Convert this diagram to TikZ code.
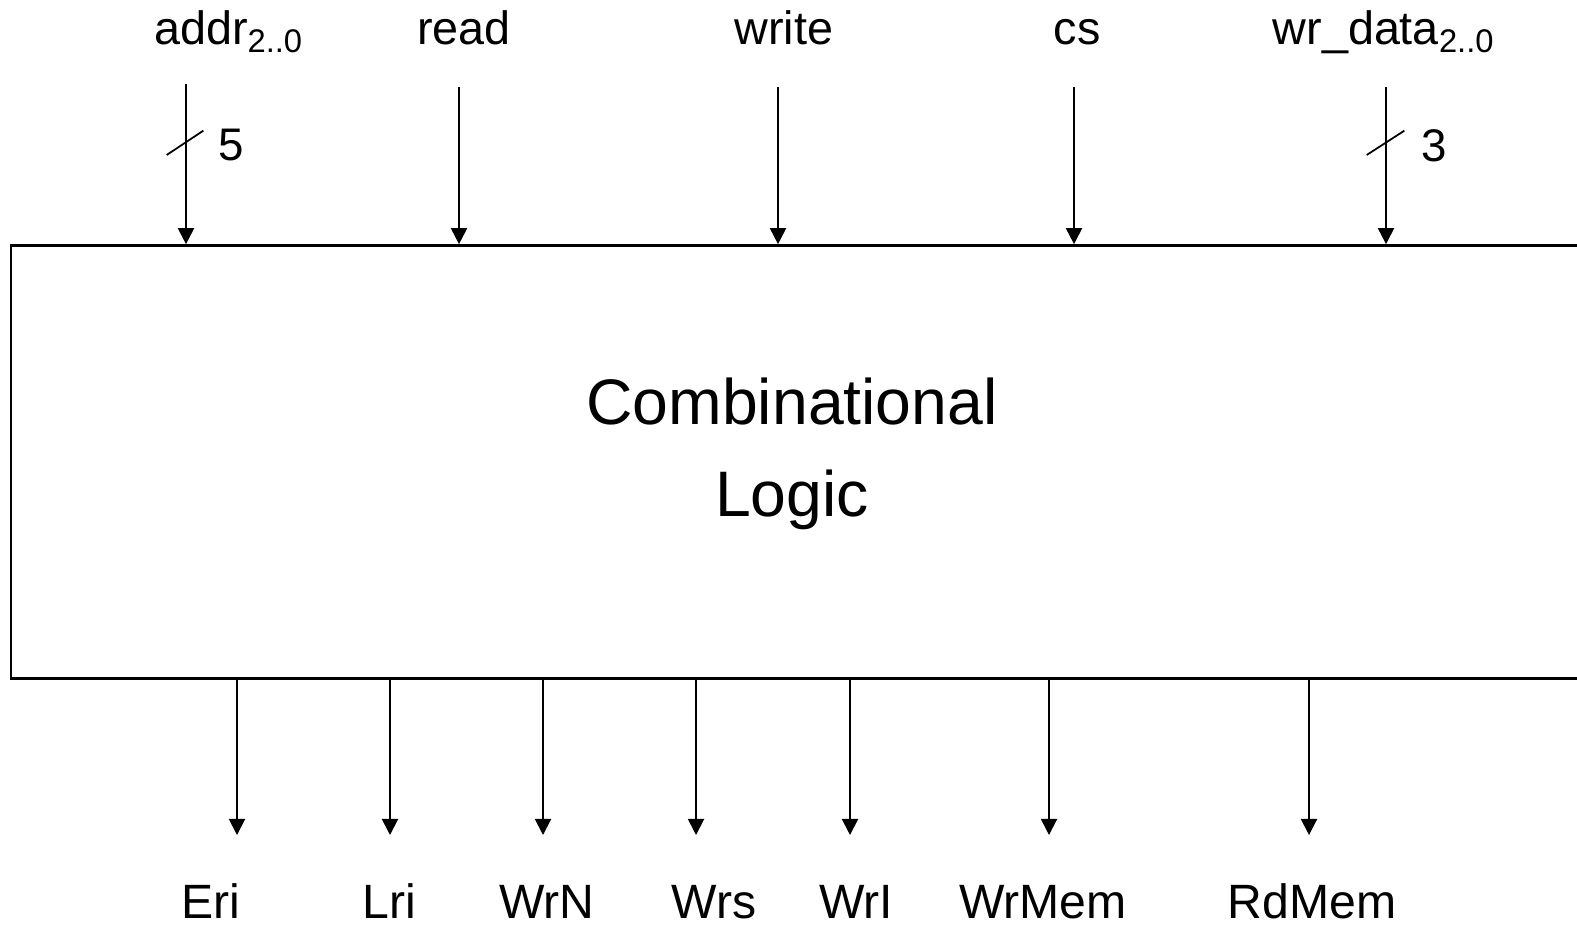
\documentclass[tikz,border=0pt]{standalone}
\usepackage{fontspec}
\setmainfont{Liberation Sans}
\usetikzlibrary{arrows.meta}

\begin{document}
\begin{tikzpicture}[
  >={Triangle[width=0.16cm, length=0.16cm]},
  fl/.style={->, line width=0.55pt},
  insig/.style={anchor=base, inner sep=0pt, font=\fontsize{13.3}{15}\selectfont},
  outsig/.style={anchor=base, inner sep=0pt, font=\fontsize{13.7}{15}\selectfont},
  blk/.style={draw, line width=0.75pt, inner sep=0pt},
]
\useasboundingbox (0,0) rectangle (15.77,9.27);

% the logic block runs off the right side of the page
\node[blk, minimum width=15.89cm, minimum height=4.328cm] (cl) at (8.055,4.651) {};
\node[align=center, font=\fontsize{18.3}{26.2}\selectfont] (title) at (7.92,4.73) {Combinational\\Logic};

% inputs
\node[insig] (addr) at (2.29,8.825) {addr\textsubscript{2..0}};
\node[insig] (rd) at (4.64,8.825) {read};
\node[insig] (wr) at (7.84,8.825) {write};
\node[insig] (cs) at (10.77,8.825) {cs};
\node[insig] (wrdata) at (13.84,8.825) {wr\_data\textsubscript{2..0}};

\coordinate (addr-in) at (1.86,8.425);
\coordinate (rd-in) at (4.59,8.395);
\coordinate (wr-in) at (7.78,8.395);
\coordinate (cs-in) at (10.74,8.395);
\coordinate (wrdata-in) at (13.86,8.395);

\draw[fl] (addr-in) -- (addr-in |- cl.north);
\draw[fl] (rd-in) -- (rd-in |- cl.north);
\draw[fl] (wr-in) -- (wr-in |- cl.north);
\draw[fl] (cs-in) -- (cs-in |- cl.north);
\draw[fl] (wrdata-in) -- (wrdata-in |- cl.north);

% bus width marks
\draw[line width=0.5pt] (1.667,7.72) -- (2.033,7.963);
\node[anchor=center, font=\fontsize{13}{15}\selectfont] (w5) at (2.31,7.82) {5};
\draw[line width=0.5pt] (13.667,7.72) -- (14.043,7.963);
\node[anchor=center, font=\fontsize{13}{15}\selectfont] (w3) at (14.34,7.815) {3};

% outputs
\coordinate (eri-out) at (2.37,0.92);
\coordinate (lri-out) at (3.90,0.92);
\coordinate (wrn-out) at (5.43,0.92);
\coordinate (wrs-out) at (6.96,0.92);
\coordinate (wri-out) at (8.50,0.92);
\coordinate (wrmem-out) at (10.49,0.92);
\coordinate (rdmem-out) at (13.09,0.92);

\draw[fl] (eri-out |- cl.south) -- (eri-out);
\draw[fl] (lri-out |- cl.south) -- (lri-out);
\draw[fl] (wrn-out |- cl.south) -- (wrn-out);
\draw[fl] (wrs-out |- cl.south) -- (wrs-out);
\draw[fl] (wri-out |- cl.south) -- (wri-out);
\draw[fl] (wrmem-out |- cl.south) -- (wrmem-out);
\draw[fl] (rdmem-out |- cl.south) -- (rdmem-out);

\node[outsig] (eri) at (2.11,0.09) {Eri};
\node[outsig] (lri) at (3.89,0.09) {Lri};
\node[outsig] (wrn) at (5.47,0.09) {WrN};
\node[outsig] (wrs) at (7.14,0.09) {Wrs};
\node[outsig] (wri) at (8.56,0.09) {WrI};
\node[outsig] (wrmem) at (10.43,0.09) {WrMem};
\node[outsig] (rdmem) at (13.12,0.09) {RdMem};
\end{tikzpicture}
\end{document}
